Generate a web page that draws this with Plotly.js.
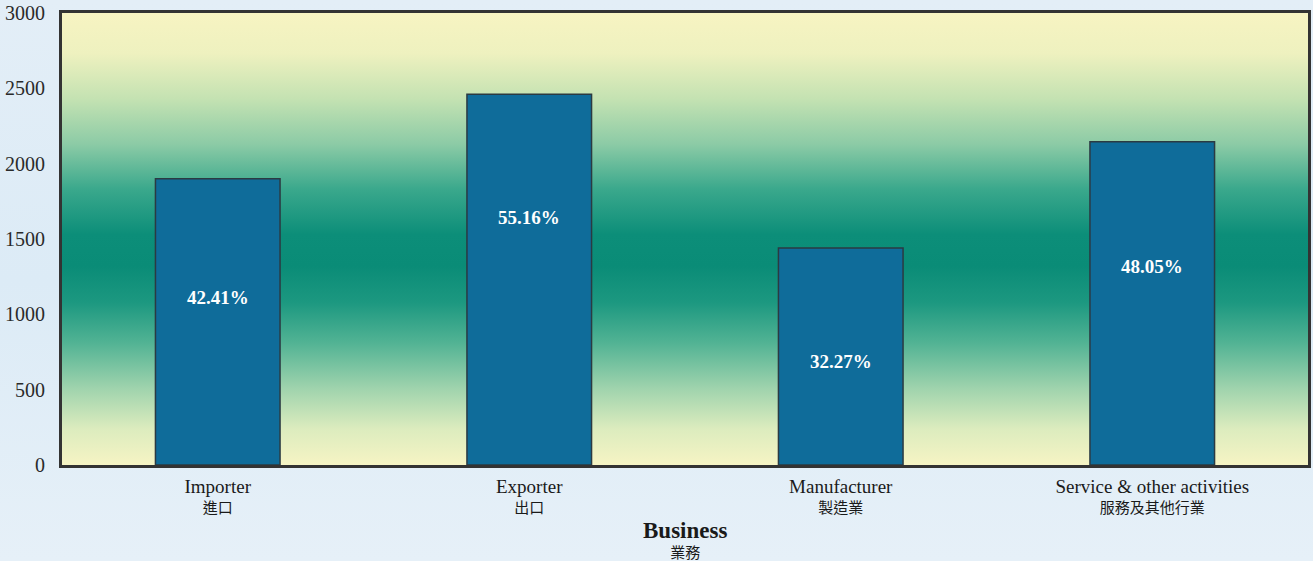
<!DOCTYPE html>
<html>
<head>
<meta charset="utf-8">
<script src="https://cdn.plot.ly/plotly-3.0.1.min.js"></script>
<style>
  html, body { margin:0; padding:0; }
  body { width:1313px; height:561px; overflow:hidden;
         background: linear-gradient(180deg, #e3eef7 0%, #dcebf6 50%, #e6f0f8 100%); position:relative; }
  #bg { position:absolute; left:62px; top:13px; width:1246px; height:452px;
        background: linear-gradient(180deg,
          #f7f4c2 0%, #eef1bf 9%, #c4e2b2 19%, #8ccba6 29%, #3aa88c 39%,
          #0c8e79 49%, #0a8c77 56%, #1c9880 64%, #52b394 73%, #9fd3ad 83%,
          #dcecbe 92%, #f6f4c4 100%); }
  #chart { position:absolute; left:0; top:0; width:1313px; height:561px; }
</style>
</head>
<body>
<div id="bg"></div>
<div id="chart"></div>
<script>
const categoriesEn = ["Importer", "Exporter", "Manufacturer", "Service & other activities"];
const categoriesZh = ["進口", "出口", "製造業", "服務及其他行業"];
const counts = [1900, 2460, 1440, 2145];
const percentLabels = ["42.41%", "55.16%", "32.27%", "48.05%"];
const axisTitleEn = "Business";
const axisTitleZh = "業務";

// vertical placement of the percentage text inside each bar (axis units)
const labelY = [1110, 1640, 685, 1315];

const tickText = categoriesEn.map((e, i) =>
  "<span style='font-size:19px;font-family:Liberation Serif'>" + e + "</span><br>" + categoriesZh[i]);

const trace = {
  type: "bar",
  x: categoriesEn,
  y: counts,
  marker: { color: "#0f6c9a", line: { color: "#2b3a42", width: 1.5 } },
  width: 0.4,
  hoverinfo: "skip"
};

const annotations = categoriesEn.map((c, i) => ({
  x: c, y: labelY[i], xref: "x", yref: "y",
  text: "<b>" + percentLabels[i] + "</b>",
  showarrow: false,
  font: { family: "Liberation Serif, serif", size: 19, color: "#ffffff" }
}));

annotations.push({
  x: 0.5, xref: "paper", y: -0.165, yref: "paper", yanchor: "middle",
  text: "<span style='font-size:23px;font-family:Liberation Serif'><b>" + axisTitleEn + "</b></span><br>" + axisTitleZh,
  showarrow: false,
  font: { family: "Noto Sans CJK TC, sans-serif", size: 15, color: "#1a1a1a" }
});

const layout = {
  width: 1313, height: 561,
  margin: { l: 62, r: 5, t: 13, b: 96 },
  paper_bgcolor: "rgba(0,0,0,0)",
  plot_bgcolor: "rgba(0,0,0,0)",
  showlegend: false,
  xaxis: {
    type: "category",
    range: [-0.5, 3.5],
    tickvals: categoriesEn,
    ticktext: tickText,
    showline: true, mirror: true, linecolor: "#333333", linewidth: 3,
    showgrid: false, zeroline: false, ticks: "",
    ticklabelstandoff: 7,
    tickfont: { family: "Noto Sans CJK TC, sans-serif", size: 15, color: "#1a1a1a" }
  },
  yaxis: {
    range: [0, 3000],
    tickvals: [0, 500, 1000, 1500, 2000, 2500, 3000],
    showline: true, mirror: true, linecolor: "#333333", linewidth: 3,
    showgrid: false, zeroline: false, ticks: "",
    ticklabelstandoff: 10,
    tickfont: { family: "Liberation Serif, serif", size: 20, color: "#2a2a2a" }
  },
  annotations: annotations
};

Plotly.newPlot("chart", [trace], layout, { displayModeBar: false, staticPlot: true });
</script>
</body>
</html>
